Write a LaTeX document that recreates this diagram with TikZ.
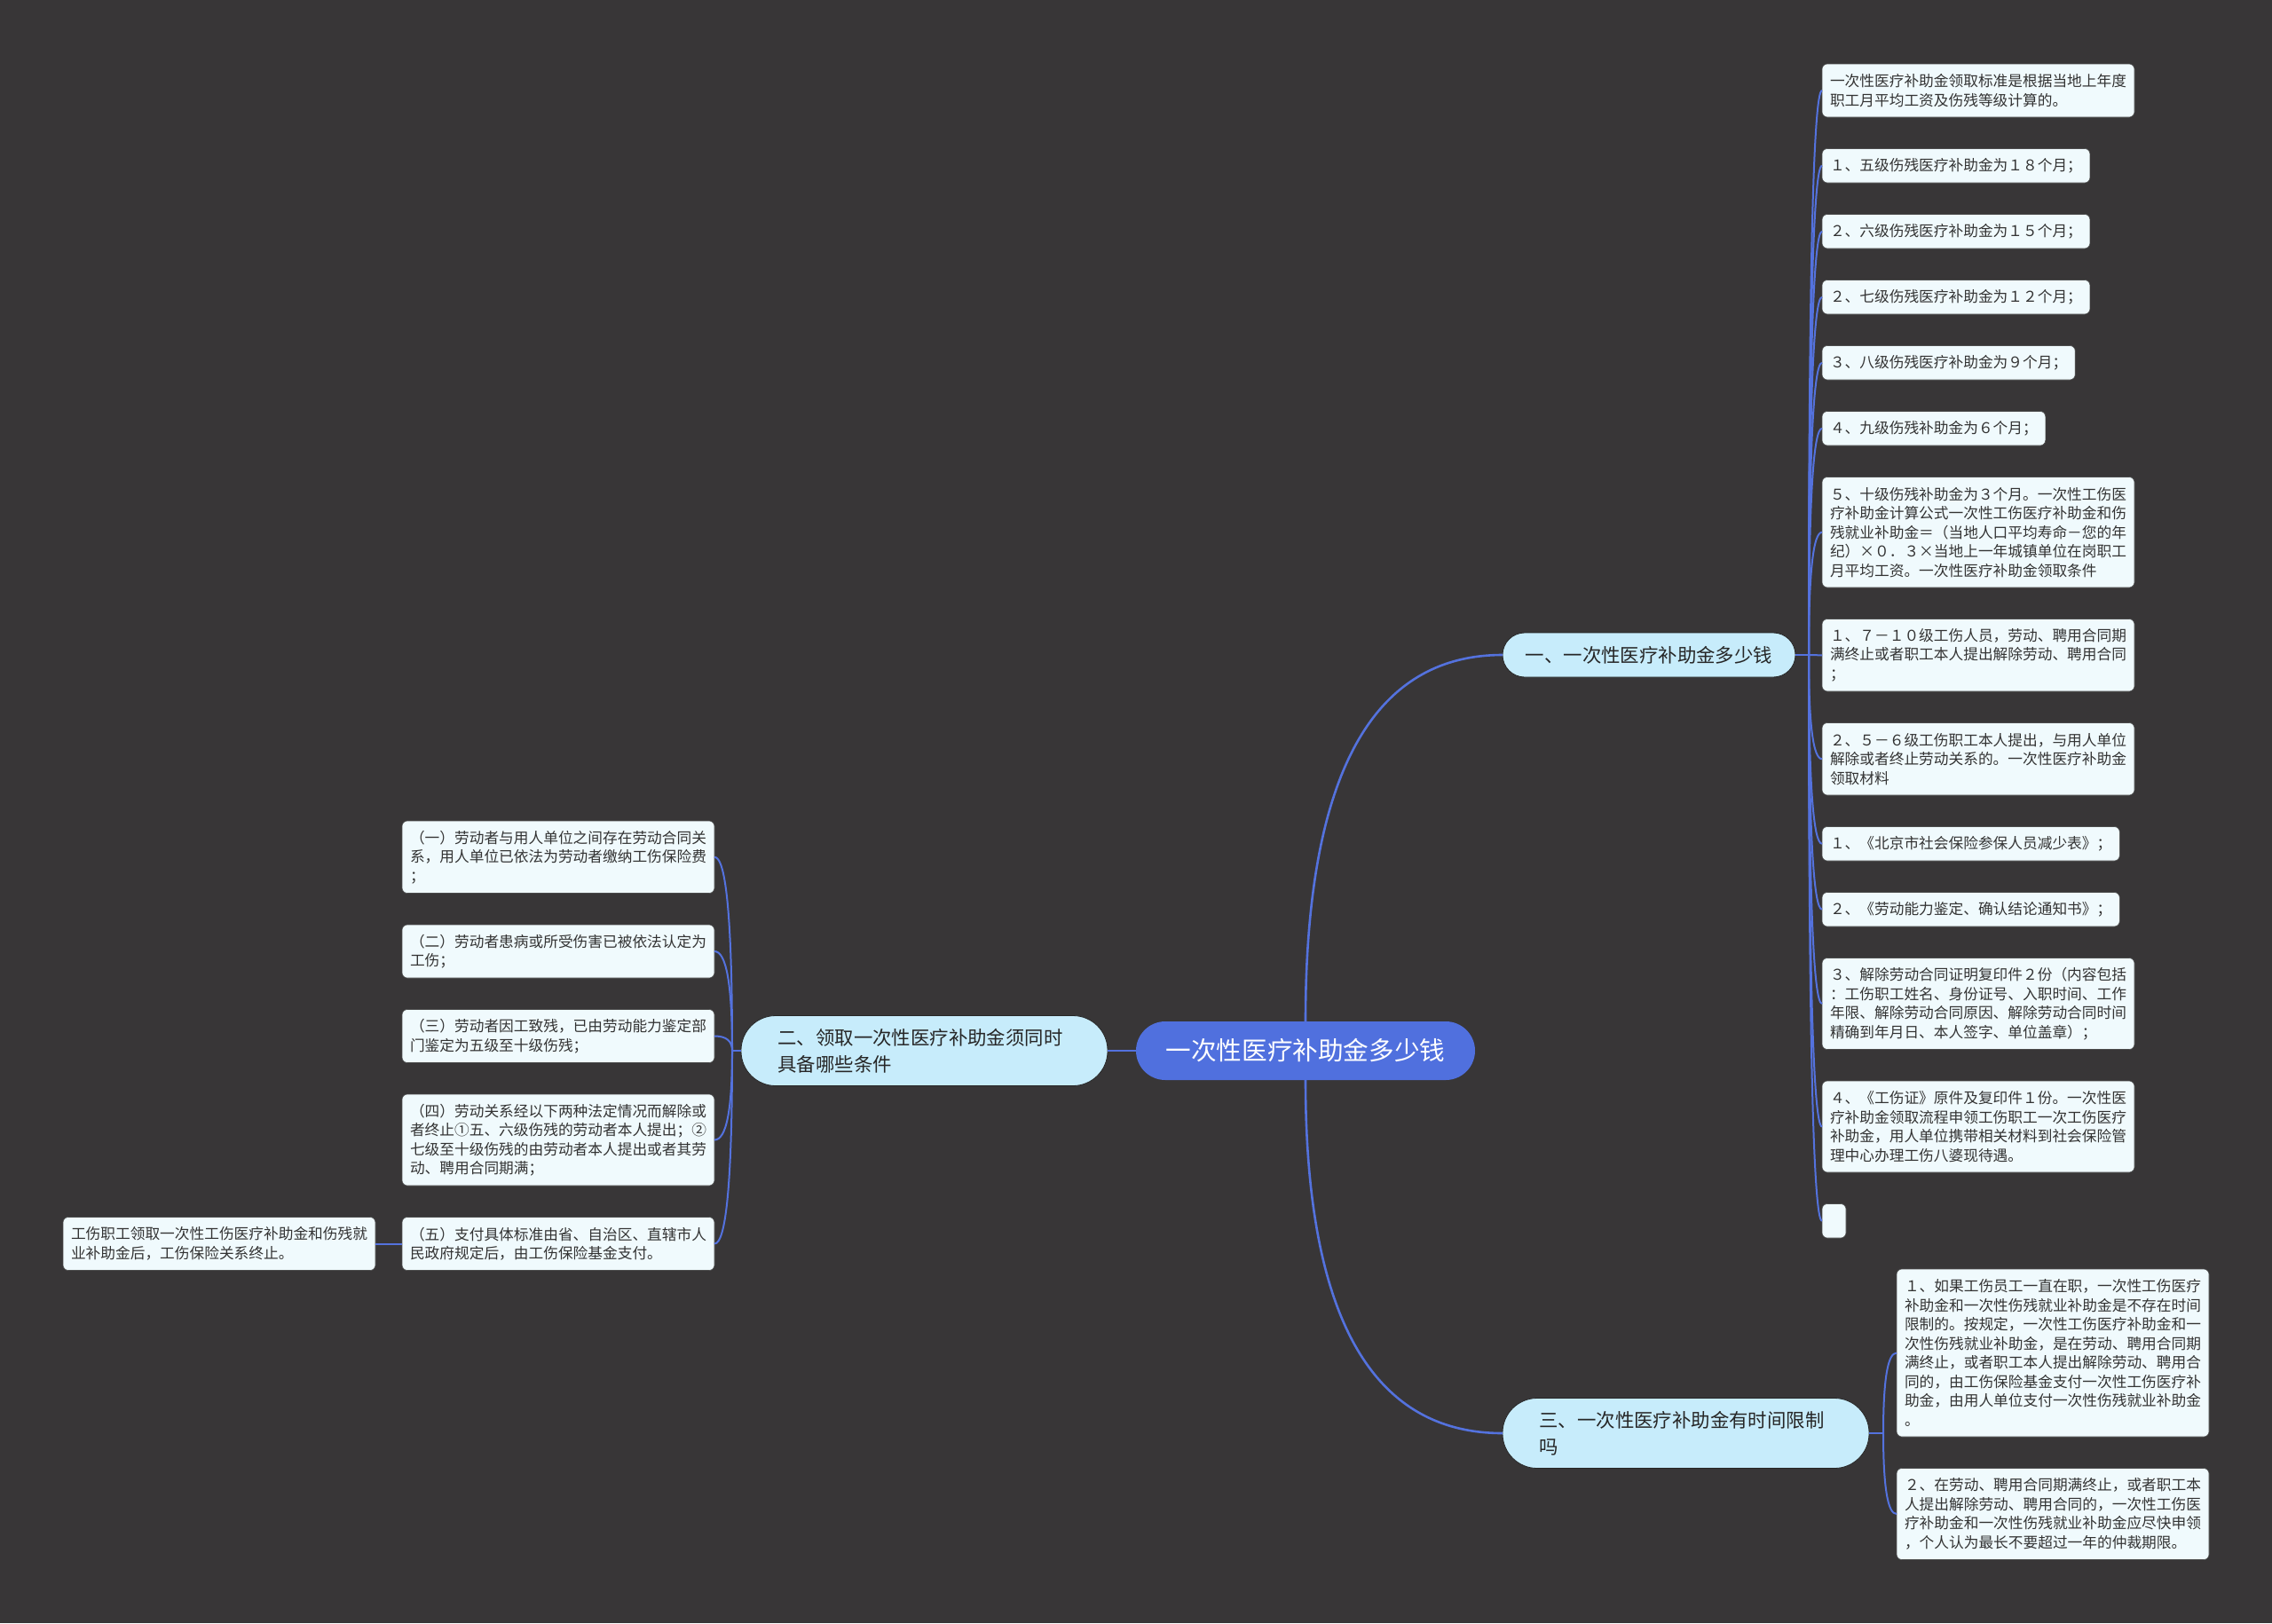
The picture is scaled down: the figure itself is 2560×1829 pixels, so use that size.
\documentclass[tikz,border=0pt]{standalone}
\usepackage{fontspec}
\setmainfont{Noto Sans CJK SC}
\usepackage{tikz}
\usetikzlibrary{positioning,calc}
\usepackage{xcolor}
\definecolor{bgdark}{RGB}{56,54,55}
\definecolor{leaffill}{RGB}{240,250,253}
\definecolor{branchfill}{RGB}{199,236,251}
\definecolor{rootblue}{RGB}{80,112,222}
\definecolor{linkblue}{RGB}{84,114,222}
\definecolor{textgray}{RGB}{51,51,51}
\tikzstyle{root} = [rectangle, rounded corners=33pt, minimum width=382pt, minimum height=66pt, inner sep=0pt, outer sep=0pt, fill=rootblue, text=white, font=\fontsize{28.6}{34}\selectfont]
\tikzstyle{branch} = [rectangle, rounded corners=39pt, minimum width=413pt, minimum height=79pt, text width=330pt, align=left, inner sep=0pt, outer sep=0pt, fill=branchfill, draw=black!85, line width=0.8pt, text=black!85, font=\fontsize{21.4}{30}\selectfont]
\tikzstyle{leaf} = [rectangle, rounded corners=6pt, inner xsep=9pt, inner ysep=0pt, outer sep=0pt, align=left, fill=leaffill, draw=black!70, line width=0.6pt, text=textgray, font=\fontsize{16.7}{21.5}\selectfont]
\tikzstyle{link} = [linkblue, line width=2.6pt]
\tikzstyle{leaflink} = [linkblue, line width=2pt]
\tikzset{nrows/.style={minimum height=21.5*#1+17}}
\newcommand{\mmlink}[3][leaflink]{%
  \draw [#1] (#2) .. controls ($(#2)!0.667!(#2 |- #3)$) and ($(#3)!0.667!(#2 |- #3)$) .. (#3);}

\begin{document}
\begin{tikzpicture}[x=1pt, y=-1pt]
    \fill [bgdark] (0,0) rectangle (2560,1829);
    % Nodes
    \node (cen) [root] at (1471,1184) {一次性医疗补助金多少钱};
    \node (b1) [branch, right=31pt of cen, yshift=446pt, minimum width=330pt, minimum height=50pt, rounded corners=25pt, text width=290pt, align=center] {一、一次性医疗补助金多少钱};
    \node (b2) [branch, left=32pt of cen] {二、领取一次性医疗补助金须同时\\具备哪些条件};
    \node (b3) [branch, right=31pt of cen, yshift=-431pt] {三、一次性医疗补助金有时间限制\\吗};

    \node (r1) [leaf, nrows=2, anchor=north west] at (2053,72) {一次性医疗补助金领取标准是根据当地上年度\\职工月平均工资及伤残等级计算的。};
    \node (r2) [leaf, nrows=1, below=35.5pt of r1.south west, anchor=north west] {１、五级伤残医疗补助金为１８个月；};
    \node (r3) [leaf, nrows=1, below=35.5pt of r2.south west, anchor=north west] {２、六级伤残医疗补助金为１５个月；};
    \node (r4) [leaf, nrows=1, below=35.5pt of r3.south west, anchor=north west] {２、七级伤残医疗补助金为１２个月；};
    \node (r5) [leaf, nrows=1, below=35.5pt of r4.south west, anchor=north west] {３、八级伤残医疗补助金为９个月；};
    \node (r6) [leaf, nrows=1, below=35.5pt of r5.south west, anchor=north west] {４、九级伤残补助金为６个月；};
    \node (r7) [leaf, nrows=5, below=35.5pt of r6.south west, anchor=north west] {５、十级伤残补助金为３个月。一次性工伤医\\疗补助金计算公式一次性工伤医疗补助金和伤\\残就业补助金＝（当地人口平均寿命－您的年\\纪）×０．３×当地上一年城镇单位在岗职工\\月平均工资。一次性医疗补助金领取条件};
    \node (r8) [leaf, nrows=3, below=35.5pt of r7.south west, anchor=north west] {１、７－１０级工伤人员，劳动、聘用合同期\\满终止或者职工本人提出解除劳动、聘用合同\\；};
    \node (r9) [leaf, nrows=3, below=35.5pt of r8.south west, anchor=north west] {２、５－６级工伤职工本人提出，与用人单位\\解除或者终止劳动关系的。一次性医疗补助金\\领取材料};
    \node (r10) [leaf, nrows=1, below=35.5pt of r9.south west, anchor=north west] {１、《北京市社会保险参保人员减少表》；};
    \node (r11) [leaf, nrows=1, below=35.5pt of r10.south west, anchor=north west] {２、《劳动能力鉴定、确认结论通知书》；};
    \node (r12) [leaf, nrows=4, below=35.5pt of r11.south west, anchor=north west] {３、解除劳动合同证明复印件２份（内容包括\\：工伤职工姓名、身份证号、入职时间、工作\\年限、解除劳动合同原因、解除劳动合同时间\\精确到年月日、本人签字、单位盖章）；};
    \node (r13) [leaf, nrows=4, below=35.5pt of r12.south west, anchor=north west] {４、《工伤证》原件及复印件１份。一次性医\\疗补助金领取流程申领工伤职工一次工伤医疗\\补助金，用人单位携带相关材料到社会保险管\\理中心办理工伤八婆现待遇。};
    \node (r14) [leaf, nrows=1, minimum width=27pt, below=35.5pt of r13.south west, anchor=north west] {};

    \node (m1) [leaf, nrows=3, anchor=north east] at (805,925) {（一）劳动者与用人单位之间存在劳动合同关\\系，用人单位已依法为劳动者缴纳工伤保险费\\；};
    \node (m2) [leaf, nrows=2, below=35.5pt of m1.south east, anchor=north east] {（二）劳动者患病或所受伤害已被依法认定为\\工伤；};
    \node (m3) [leaf, nrows=2, below=35.5pt of m2.south east, anchor=north east] {（三）劳动者因工致残，已由劳动能力鉴定部\\门鉴定为五级至十级伤残；};
    \node (m4) [leaf, nrows=4, below=35.5pt of m3.south east, anchor=north east] {（四）劳动关系经以下两种法定情况而解除或\\者终止①五、六级伤残的劳动者本人提出；②\\七级至十级伤残的由劳动者本人提出或者其劳\\动、聘用合同期满；};
    \node (m5) [leaf, nrows=2, below=35.5pt of m4.south east, anchor=north east] {（五）支付具体标准由省、自治区、直辖市人\\民政府规定后，由工伤保险基金支付。};
    \node (g1) [leaf, nrows=2, left=30pt of m5] {工伤职工领取一次性工伤医疗补助金和伤残就\\业补助金后，工伤保险关系终止。};

    \node (n1) [leaf, nrows=8, anchor=north west] at (2137,1430) {１、如果工伤员工一直在职，一次性工伤医疗\\补助金和一次性伤残就业补助金是不存在时间\\限制的。按规定，一次性工伤医疗补助金和一\\次性伤残就业补助金，是在劳动、聘用合同期\\满终止，或者职工本人提出解除劳动、聘用合\\同的，由工伤保险基金支付一次性工伤医疗补\\助金，由用人单位支付一次性伤残就业补助金\\。};
    \node (n2) [leaf, nrows=4, below=35.5pt of n1.south west, anchor=north west] {２、在劳动、聘用合同期满终止，或者职工本\\人提出解除劳动、聘用合同的，一次性工伤医\\疗补助金和一次性伤残就业补助金应尽快申领\\，个人认为最长不要超过一年的仲裁期限。};

    \coordinate (j1) at ($(b1.east)+(15,0)$);
    \coordinate (j2) at ($(b2.west)+(-10,0)$);
    \coordinate (j3) at ($(b3.east)+(16,0)$);

    % Links
    \draw [link] (cen.west) -- (b2.east);
    \mmlink[link]{cen.north}{b1.west}
    \mmlink[link]{cen.south}{b3.west}

    \draw [leaflink] (b1.east) -- (j1);
    \mmlink{j1}{r1.west}
    \mmlink{j1}{r2.west}
    \mmlink{j1}{r3.west}
    \mmlink{j1}{r4.west}
    \mmlink{j1}{r5.west}
    \mmlink{j1}{r6.west}
    \mmlink{j1}{r7.west}
    \mmlink{j1}{r8.west}
    \mmlink{j1}{r9.west}
    \mmlink{j1}{r10.west}
    \mmlink{j1}{r11.west}
    \mmlink{j1}{r12.west}
    \mmlink{j1}{r13.west}
    \mmlink{j1}{r14.west}

    \draw [leaflink] (b2.west) -- (j2);
    \mmlink{j2}{m1.east}
    \mmlink{j2}{m2.east}
    \mmlink{j2}{m3.east}
    \mmlink{j2}{m4.east}
    \mmlink{j2}{m5.east}
    \draw [leaflink] (m5.west) -- (g1.east);

    \draw [leaflink] (b3.east) -- (j3);
    \mmlink{j3}{n1.west}
    \mmlink{j3}{n2.west}
\end{tikzpicture}
\end{document}
